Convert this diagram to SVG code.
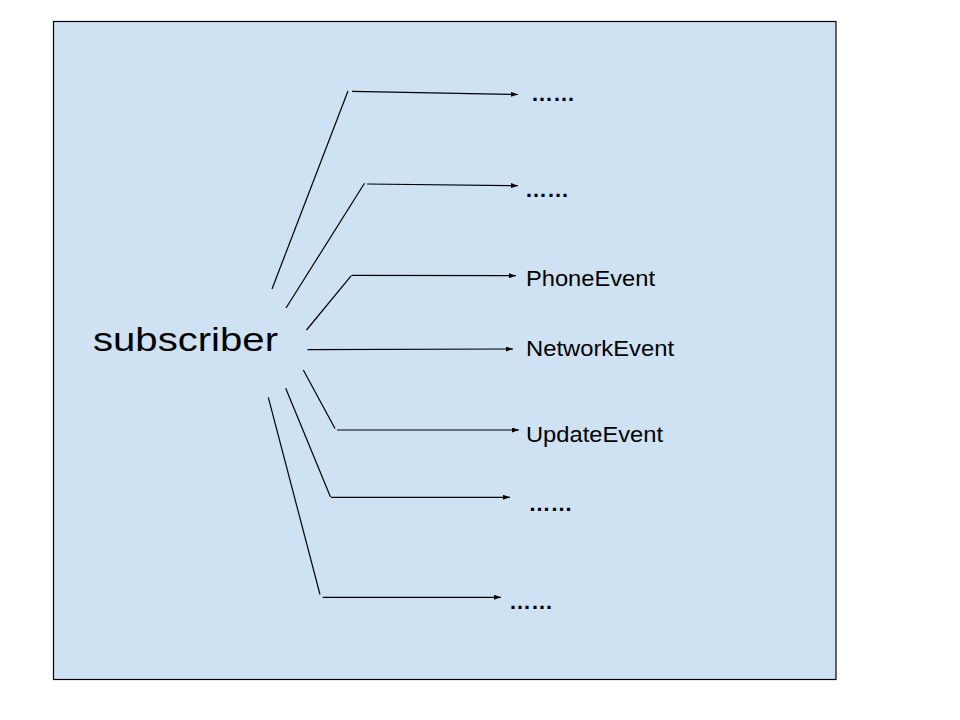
<svg xmlns="http://www.w3.org/2000/svg" width="960" height="720" viewBox="0 0 960 720">
<style>
.ln{stroke:#000;stroke-width:1.2;fill:none}
.ar{stroke:#000;stroke-width:1.2;fill:none;marker-end:url(#ah)}
.lbl{font-family:"Liberation Sans",Arial,sans-serif;font-size:22px;fill:#000}
.dots{font-family:"Liberation Sans",Arial,sans-serif;font-size:22px;font-weight:bold;fill:#000}
</style>
<defs>
<marker id="ah" viewBox="0 0 10 10" refX="10" refY="5" markerWidth="7" markerHeight="5" markerUnits="userSpaceOnUse" orient="auto" preserveAspectRatio="none">
<path d="M0,0L10,5L0,10z" fill="#000"/>
</marker>
</defs>
<rect x="0" y="0" width="960" height="720" fill="#fff"/>
<g id="frame">
<rect x="53.5" y="21.5" width="782.5" height="658" fill="#cfe2f3" stroke="#000" stroke-width="1.2"/>
</g>
<g id="connectors">
<line class="ln" x1="272" y1="289" x2="348" y2="91"/>
<line class="ar" x1="352" y1="91.3" x2="518" y2="94.5"/>
<line class="ln" x1="286" y1="308" x2="364.5" y2="183.3"/>
<line class="ar" x1="367" y1="184" x2="518" y2="185.7"/>
<line class="ln" x1="306.5" y1="330" x2="351.5" y2="275.3"/>
<line class="ar" x1="352" y1="275.3" x2="516" y2="275.7"/>
<line class="ar" x1="307.5" y1="349.6" x2="513" y2="349"/>
<line class="ln" x1="303.3" y1="370" x2="335" y2="428.5"/>
<line class="ar" x1="337" y1="430" x2="519" y2="430"/>
<line class="ln" x1="285.7" y1="388.3" x2="330.5" y2="497"/>
<line class="ar" x1="331" y1="497.3" x2="510" y2="497.3"/>
<line class="ln" x1="268.3" y1="397.3" x2="320" y2="594.5"/>
<line class="ar" x1="322.7" y1="597.3" x2="501" y2="597.3"/>
</g>
<g id="node-subscriber">
<text x="93" y="351" font-family="'Liberation Sans',Arial,sans-serif" font-size="33" textLength="185" lengthAdjust="spacingAndGlyphs">subscriber</text>
</g>
<g id="node-dots1"><text class="dots" x="531" y="100.5">……</text></g>
<g id="node-dots2"><text class="dots" x="525" y="196.5">……</text></g>
<g id="node-phone"><text class="lbl" x="526" y="285.5" textLength="129" lengthAdjust="spacingAndGlyphs">PhoneEvent</text></g>
<g id="node-network"><text class="lbl" x="526" y="355.5" textLength="148" lengthAdjust="spacingAndGlyphs">NetworkEvent</text></g>
<g id="node-update"><text class="lbl" x="526" y="441.5" textLength="137" lengthAdjust="spacingAndGlyphs">UpdateEvent</text></g>
<g id="node-dots3"><text class="dots" x="528.5" y="511">……</text></g>
<g id="node-dots4"><text class="dots" x="509" y="608.5">……</text></g>
</svg>
